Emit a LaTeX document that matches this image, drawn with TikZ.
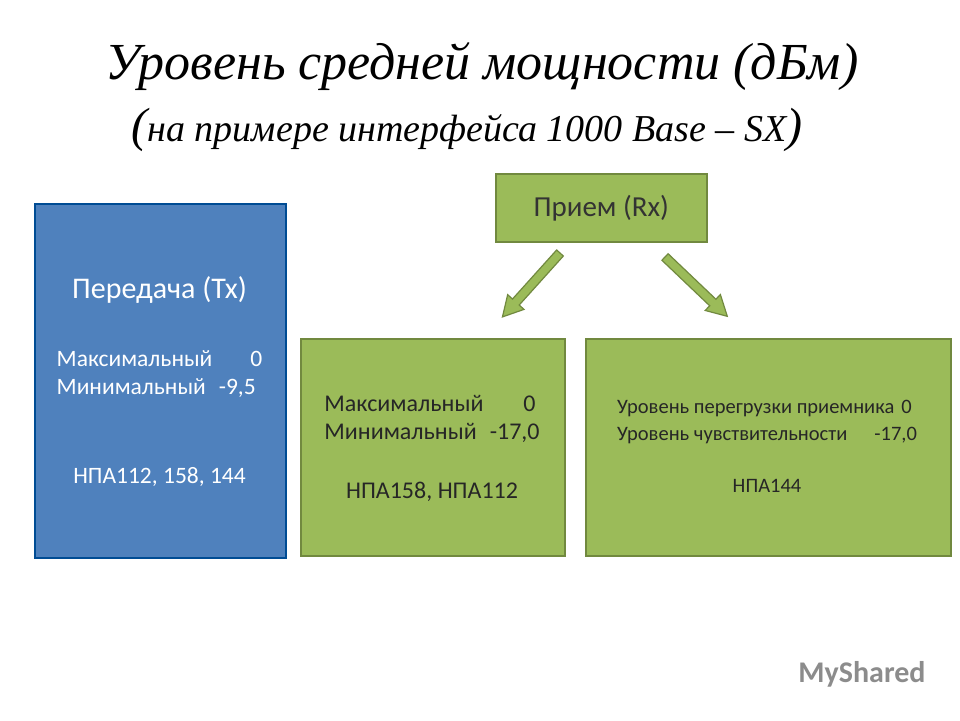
\documentclass[tikz,border=0pt]{standalone}
\usepackage{fontspec}
\setmainfont{Liberation Serif}
\setsansfont{Carlito}
\begin{document}
\begin{tikzpicture}[x=1pt,y=1pt,
  bluebox/.style={draw=blue!40!black!70!cyan, line width=1.6pt, fill=myblue, inner sep=0pt},
  greenbox/.style={draw=mygreendark, line width=1.6pt, fill=mygreen, inner sep=0pt},
  arr/.style={draw=mygreendark, line width=1.2pt, fill=mygreen, line join=miter}]
\definecolor{myblue}{HTML}{4F81BD}
\definecolor{mygreen}{HTML}{9BBB59}
\definecolor{mygreendark}{HTML}{71893F}
\useasboundingbox (0,0) rectangle (960,720);
\fill[white] (0,0) rectangle (960,720);
\node (t1) at (482,653) {\fontsize{52}{56}\selectfont\itshape Уровень средней мощности (дБм)};
\node (t2) at (467,590) {\itshape{\fontsize{48}{50}\selectfont(}{\fontsize{38}{40}\selectfont на примере интерфейса 1000 Base -- SX}{\fontsize{48}{50}\selectfont)}};
\node[bluebox, minimum width=251pt, minimum height=354pt, anchor=north west] (tx) at (34,517) {};
\node[white, font=\sffamily\fontsize{30}{34}\selectfont] (txh) at (159.5,430) {Передача (Tx)};
\node[white, font=\sffamily\fontsize{23.5}{28}\selectfont, align=left] (txv) at (159.5,346) {Максимальный\hspace{38pt}0\\Минимальный\hspace{13pt}-9,5};
\node[white, font=\sffamily\fontsize{23.5}{28}\selectfont] (txn) at (159.5,243) {НПА112, 158, 144};
\node[greenbox, minimum width=211pt, minimum height=68pt, anchor=north west, text=black!80, font=\sffamily\fontsize{29}{34}\selectfont] (rx) at (495,547) {Прием (Rx)};
\node[greenbox, minimum width=264pt, minimum height=217pt, anchor=north west] (l) at (300,382) {};
\node[text=black!85, font=\sffamily\fontsize{24}{28}\selectfont, align=left] (lv) at (432,301) {Максимальный\hspace{40pt}0\\Минимальный\hspace{13pt}-17,0};
\node[text=black!85, font=\sffamily\fontsize{24}{28}\selectfont] (ln) at (432,228) {НПА158, НПА112};
\node[greenbox, minimum width=365pt, minimum height=217pt, anchor=north west] (r) at (585,382) {};
\node[text=black!85, font=\sffamily\fontsize{20.5}{27}\selectfont, align=left] (rv) at (767,298) {Уровень перегрузки приемника\hspace{7pt}0\\Уровень чувствительности\hspace{27pt}-17,0};
\node[text=black!85, font=\sffamily\fontsize{20.5}{24}\selectfont] (rn) at (767,234) {НПА144};
\begin{scope}[shift={(560,467)}, rotate=-132]
\draw[arr] (0,-4.5) -- (66,-4.5) -- (66,-11) -- (86,0) -- (66,11) -- (66,4.5) -- (0,4.5) -- cycle;
\end{scope}
\begin{scope}[shift={(665,463)}, rotate=-43.6]
\draw[arr] (0,-4.5) -- (66,-4.5) -- (66,-11) -- (86,0) -- (66,11) -- (66,4.5) -- (0,4.5) -- cycle;
\end{scope}
\node[text=black!45, font=\sffamily\bfseries\fontsize{30}{32}\selectfont] (wm) at (862,46) {MyShared};
\end{tikzpicture}
\end{document}
